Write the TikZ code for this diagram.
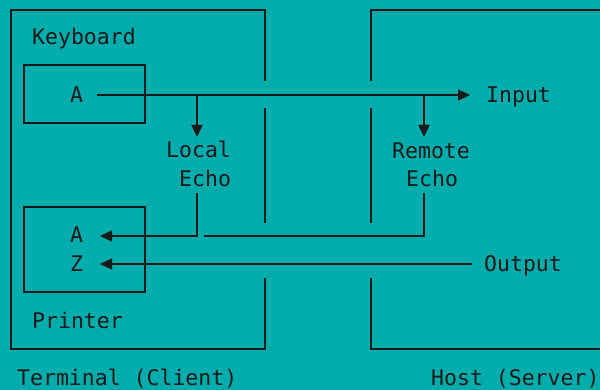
\documentclass[tikz,border=0pt]{standalone}
\usepackage{fontspec}
\setmonofont{DejaVu Sans Mono}
\usetikzlibrary{arrows.meta}
\definecolor{bg}{RGB}{0,172,172}
\definecolor{ink}{RGB}{25,25,25}
\begin{document}
\begin{tikzpicture}[x=1pt,y=-1pt,
  line/.style={draw=ink,line width=1.4pt},
  arr/.style={line,-{Triangle[length=12pt,width=11pt]}},
  lbl/.style={font=\ttfamily\fontsize{21.5}{22}\selectfont,text=ink,inner sep=0pt,anchor=base west},
  boxx/.style={line,rectangle,inner sep=0pt}]
\fill[bg] (0,0) rectangle (600,390);
\useasboundingbox (0,0) rectangle (600,390);
% frames
\draw[line] (265,81) -- (265,10) -- (11,10) -- (11,349) -- (265,349) -- (265,278);
\draw[line] (265,108) -- (265,223);
\draw[line] (371,81) -- (371,10) -- (600,10);
\draw[line] (371,108) -- (371,223);
\draw[line] (371,278) -- (371,349) -- (600,349);
% inner boxes
\node[boxx,minimum width=121pt,minimum height=58pt] (kbd) at (84.5,94) {};
\node[boxx,minimum width=121pt,minimum height=85pt] (prn) at (84.5,249.5) {};
% labels
\node[lbl] (keyboard) at (32,45) {Keyboard};
\node[lbl] (kA) at (70,103) {A};
\node[lbl] (input) at (486,103) {Input};
\node[lbl] (local) at (166,158) {Local};
\node[lbl] (lecho) at (179,187) {Echo};
\node[lbl] (remote) at (392,159) {Remote};
\node[lbl] (recho) at (406,187) {Echo};
\node[lbl] (pA) at (70,243) {A};
\node[lbl] (pZ) at (70,272) {Z};
\node[lbl] (output) at (484,272) {Output};
\node[lbl] (printer) at (32,328) {Printer};
\node[lbl] (term) at (17,385) {Terminal (Client)};
\node[lbl] (host) at (431,385) {Host (Server)};
% connector points
\coordinate (inS) at (97,95);
\coordinate (inE) at (470,95);
\coordinate (lJ) at (197,95);
\coordinate (lT) at (197,137);
\coordinate (rJ) at (424,95);
\coordinate (rT) at (424,137);
\coordinate (lB) at (197,193);
\coordinate (lC) at (197,236);
\coordinate (pAt) at (100,236);
\coordinate (rB) at (424,193);
\coordinate (rC) at (424,236);
\coordinate (rE) at (204,236);
\coordinate (oS) at (472,264);
\coordinate (pZt) at (100,264);
% connectors
\draw[arr] (inS) -- (inE);
\draw[arr] (lJ) -- (lT);
\draw[arr] (rJ) -- (rT);
\draw[arr] (lB) -- (lC) -- (pAt);
\draw[line] (rB) -- (rC) -- (rE);
\draw[arr] (oS) -- (pZt);
\end{tikzpicture}
\end{document}
